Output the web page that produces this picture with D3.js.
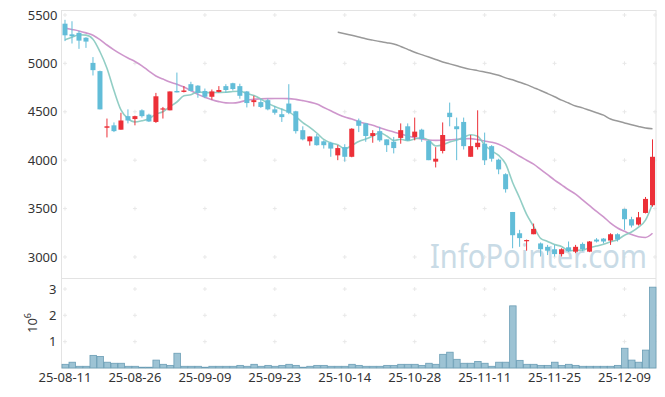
<!DOCTYPE html>
<html>
<head>
<meta charset="utf-8">
<script src="https://cdn.jsdelivr.net/npm/d3@7"></script>
<style>
  body { margin: 0; background: #fff; }
  text { font-family: "Noto Sans", "Open Sans", sans-serif; }
</style>
</head>
<body>
<div class="graph"></div>
<script>
const w = 665;
const h = 397;

// trading days, 25-08-11 .. 25-12-15
const dates = [
  "25-08-11","25-08-12","25-08-13","25-08-14","25-08-18","25-08-19","25-08-20","25-08-21","25-08-22","25-08-25",
  "25-08-26","25-08-27","25-08-28","25-08-29","25-09-01","25-09-02","25-09-03","25-09-04","25-09-05","25-09-08",
  "25-09-09","25-09-10","25-09-11","25-09-12","25-09-15","25-09-16","25-09-17","25-09-18","25-09-19","25-09-22",
  "25-09-23","25-09-24","25-09-25","25-09-26","25-09-29","25-09-30","25-10-01","25-10-02","25-10-10","25-10-13",
  "25-10-14","25-10-15","25-10-16","25-10-17","25-10-20","25-10-21","25-10-22","25-10-23","25-10-24","25-10-27",
  "25-10-28","25-10-29","25-10-30","25-10-31","25-11-03","25-11-04","25-11-05","25-11-06","25-11-07","25-11-10",
  "25-11-11","25-11-12","25-11-13","25-11-14","25-11-17","25-11-18","25-11-19","25-11-20","25-11-21","25-11-24",
  "25-11-25","25-11-26","25-11-27","25-11-28","25-12-01","25-12-02","25-12-03","25-12-04","25-12-05","25-12-08",
  "25-12-09","25-12-10","25-12-11","25-12-12","25-12-15"
];

const open = [5410,5300,5315,5265,5005,4920,4335,4360,4315,4455, 4425,4515,4470,4395,4525,4515,4715,4705,4785,4770,
  4715,4655,4705,4765,4795,4765,4710,4600,4600,4620, 4525,4475,4585,4505,4310,4195,4245,4195,4180,4050,
  4135,4035,4410,4380,4250,4300,4215,4190,4230,4350, 4240,4315,4200,3985,4095,4490,4350,4395,4035,4135,
  4170,4145,4005,3855,3465,3245,3165,3235,3140,3105, 3080,3030,3100,3055,3135,3055,3180,3190,3170,3235,
  3495,3390,3335,3455,3535];
const high = [5450,5435,5335,5270,5065,4925,4430,4390,4490,4525, 4460,4525,4480,4695,4550,4710,4905,4765,4810,4775,
  4740,4730,4765,4785,4800,4790,4715,4665,4630,4635, 4560,4535,4785,4510,4350,4245,4270,4205,4190,4155,
  4165,4330,4430,4385,4310,4345,4215,4240,4380,4380, 4440,4325,4205,4135,4390,4595,4440,4440,4260,4515,
  4285,4155,4015,3865,3465,3280,3180,3345,3150,3125, 3125,3090,3160,3125,3150,3165,3195,3195,3245,3245,
  3500,3415,3465,3620,4215];
const low = [5230,5205,5150,5160,4875,4525,4235,4290,4315,4380, 4360,4440,4395,4385,4430,4515,4700,4700,4710,4645,
  4640,4625,4700,4695,4720,4635,4545,4555,4540,4515, 4470,4395,4475,4275,4205,4150,4150,4120,4035,4000,
  3985,4030,4290,4190,4180,4190,4085,4070,4170,4200, 4205,4190,4000,3925,4070,4350,4000,4110,4035,4110,
  3950,3985,3855,3665,3090,3105,3065,3235,3005,3020, 3005,3005,3050,3040,3060,3050,3150,3140,3125,3160,
  3280,3305,3325,3450,3520];
const close = [5290,5280,5235,5225,4930,4525,4350,4300,4410,4410, 4455,4455,4400,4660,4535,4710,4700,4720,4715,4695,
  4655,4710,4725,4725,4735,4665,4590,4620,4550,4525, 4490,4445,4490,4300,4215,4245,4155,4155,4120,4125,
  4035,4325,4355,4250,4280,4205,4155,4125,4310,4205, 4295,4220,4000,4015,4260,4445,4320,4145,4145,4180,
  4000,4015,3905,3700,3225,3195,3175,3290,3080,3065, 3030,3080,3060,3105,3080,3160,3160,3160,3235,3180,
  3390,3325,3410,3600,4035];

const volume = [140000,220000,65000,65000,480000,440000,220000,180000,180000,65000,
  65000,30000,30000,300000,140000,100000,560000,65000,65000,65000,
  30000,65000,65000,65000,65000,100000,65000,140000,65000,100000,
  65000,100000,140000,100000,30000,65000,100000,100000,65000,65000,
  65000,140000,100000,65000,65000,65000,100000,100000,140000,140000,
  140000,100000,180000,140000,520000,600000,330000,180000,180000,250000,
  180000,65000,220000,220000,2360000,290000,140000,140000,100000,100000,
  220000,100000,140000,100000,65000,65000,65000,65000,65000,100000,
  750000,300000,220000,680000,3070000];

const ma5 = [5245,5270,5295,5292,5250,5120,4950,4720,4520,4430, 4395,4407,4427,4476,4501,4553,4601,4665,4676,4708,
  4696,4699,4700,4702,4710,4712,4688,4667,4632,4589, 4554,4525,4499,4450,4388,4339,4281,4214,4178,4160,
  4118,4152,4192,4218,4249,4284,4250,4204,4216,4201, 4219,4232,4206,4147,4158,4188,4208,4237,4263,4247,
  4157,4097,4049,3961,3770,3609,3441,3317,3193,3161, 3128,3109,3064,3069,3072,3097,3113,3132,3158,3179,
  3225,3258,3308,3380,3550];
const ma20 = [5364,5350,5335,5315,5290,5245,5190,5140,5095,5055, 5020,4975,4920,4870,4838,4807,4785,4755,4720,4680,
  4650,4625,4605,4592,4590,4600,4620,4630,4634,4636, 4637,4637,4636,4628,4615,4600,4580,4545,4510,4475,
  4445,4425,4398,4378,4360,4335,4312,4292,4270,4250, 4232,4218,4208,4205,4207,4210,4215,4220,4223,4212,
  4198,4185,4165,4130,4085,4040,4000,3960,3905,3850, 3795,3745,3695,3650,3590,3530,3470,3415,3350,3300,
  3265,3232,3210,3202,3245];
const ma60 = [null,null,null,null,null,null,null,null,null,null, null,null,null,null,null,null,null,null,null,null,
  null,null,null,null,null,null,null,null,null,null, null,null,null,null,null,null,null,null,null,5323,
  5307,5290,5273,5255,5240,5225,5213,5200,5175,5145, 5115,5090,5065,5040,5015,4995,4975,4955,4938,4925,
  4910,4895,4878,4850,4830,4805,4780,4750,4720,4688, 4655,4620,4590,4560,4540,4515,4490,4465,4425,4405,
  4385,4365,4348,4333,4325];

const priceTicks = [3000, 3500, 4000, 4500, 5000, 5500];
const volTicks = [1e6, 2e6, 3e6];
const dateTicks = dates.filter((d, i) => i % 10 === 0);

const upColor = "#ec3038";
const downColor = "#62bdd8";

const data = dates.map((d, i) => ({date: d, o: open[i], h: high[i], l: low[i], c: close[i], v: volume[i]}));

const canvas = d3.select('.graph')
  .append("svg")
  .attr("width", w)
  .attr("height", h);

const xScale = d3.scaleBand().domain(dates).range([61.5, 656]);
const bw = xScale.bandwidth();
const cx = d => xScale(d) + bw / 2;

const yScale = d3.scaleLinear().domain([2783, 5541]).range([278, 11]);
const vScale = d3.scaleLinear().domain([0, 3.38e6]).range([368, 279]);

// frame
canvas.append("rect")
  .attr("x", 61.5).attr("y", 10.5)
  .attr("width", 594.5).attr("height", 357.5)
  .attr("fill", "none").attr("stroke", "#e3e3e3");
canvas.append("line")
  .attr("x1", 61.5).attr("x2", 656)
  .attr("y1", 278.5).attr("y2", 278.5)
  .attr("stroke", "#e3e3e3");

// grid crosses
const gx = dateTicks.map(cx).concat([655]);
const gy = priceTicks.map(yScale).concat(volTicks.map(vScale));
const cross = canvas.append("g").attr("stroke", "#e8e8e8");
gx.forEach(x => gy.forEach(y => {
  cross.append("line").attr("x1", x - 2).attr("x2", x + 2).attr("y1", y).attr("y2", y);
  cross.append("line").attr("x1", x).attr("x2", x).attr("y1", y - 2).attr("y2", y + 2);
}));

// watermark
canvas.append("text")
  .attr("x", 430).attr("y", 268)
  .attr("textLength", 217)
  .attr("lengthAdjust", "spacingAndGlyphs")
  .style("font-size", "33px")
  .attr("fill", "#c9dbe6")
  .text("InfoPointer.com");

// volume
canvas.append("g").selectAll("rect")
  .data(data)
  .enter().append("rect")
  .attr("x", d => xScale(d.date) + 0.5)
  .attr("width", bw - 0.5)
  .attr("y", d => vScale(d.v))
  .attr("height", d => vScale(0) - vScale(d.v))
  .attr("fill", "#9dc3d4")
  .attr("stroke", "#6a9db5")
  .attr("stroke-width", 0.8);

// moving averages
const line = arr => d3.line()
  .defined(d => d != null)
  .x((d, i) => cx(dates[i]))
  .y(d => yScale(d))
  .curve(d3.curveMonotoneX)(arr);

canvas.append("path").attr("d", line(ma60))
  .attr("fill", "none").attr("stroke", "#999").attr("stroke-width", 1.5);
canvas.append("path").attr("d", line(ma20))
  .attr("fill", "none").attr("stroke", "#c98bc6").attr("stroke-width", 1.6).attr("opacity", 0.9);
canvas.append("path").attr("d", line(ma5))
  .attr("fill", "none").attr("stroke", "#86c9bf").attr("stroke-width", 1.6).attr("opacity", 0.9);

// candles
const candle = canvas.append("g").selectAll("g")
  .data(data)
  .enter().append("g")
  .attr("fill", d => d.c >= d.o ? upColor : downColor)
  .attr("stroke", d => d.c >= d.o ? upColor : downColor);

candle.append("line")
  .attr("x1", d => cx(d.date)).attr("x2", d => cx(d.date))
  .attr("y1", d => yScale(d.h)).attr("y2", d => yScale(d.l))
  .attr("stroke-width", 1);

candle.append("rect")
  .attr("x", d => cx(d.date) - 2.5)
  .attr("width", 5)
  .attr("y", d => yScale(Math.max(d.o, d.c)))
  .attr("height", d => Math.max(1.2, Math.abs(yScale(d.o) - yScale(d.c))))
  .attr("stroke", "none");

// axes
const yAxis = canvas.append("g")
  .attr("transform", "translate(61.5,0)")
  .call(d3.axisLeft(yScale).tickValues(priceTicks).tickFormat(d3.format("d")).tickSize(0).tickPadding(4));
const vAxis = canvas.append("g")
  .attr("transform", "translate(61.5,0)")
  .call(d3.axisLeft(vScale).tickValues(volTicks).tickFormat(d => d / 1e6).tickSize(0).tickPadding(5));
const xAxis = canvas.append("g")
  .attr("transform", "translate(0,368)")
  .call(d3.axisBottom(xScale).tickValues(dateTicks).tickSize(0).tickPadding(5));

[yAxis, vAxis, xAxis].forEach(a => {
  a.select(".domain").remove();
  a.selectAll("text")
    .style("font-size", "13px")
    .style("font-family", "'Noto Sans', sans-serif")
    .attr("fill", "#333");
});

const unit = canvas.append("text")
  .attr("transform", "translate(37,333) rotate(-90)")
  .style("font-size", "13px")
  .attr("fill", "#333");
unit.append("tspan").text("10");
unit.append("tspan").attr("dy", -6).style("font-size", "9px").text("6");
</script>
</body>
</html>
